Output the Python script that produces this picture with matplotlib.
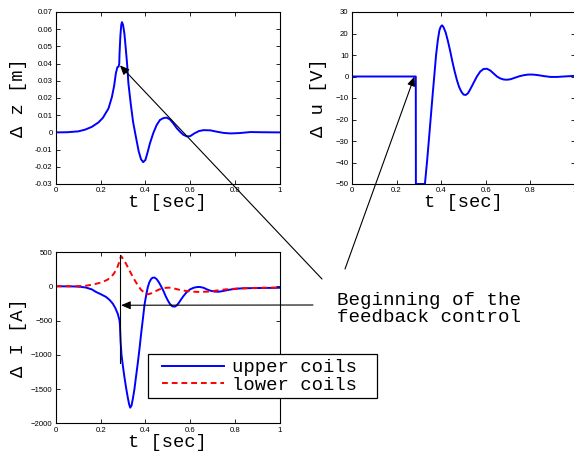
import matplotlib.pyplot as plt
from matplotlib.patches import Rectangle
import numpy as np

# ---------------------------------------------------------
# Data
# ---------------------------------------------------------

# vertical displacement of the plasma, delta z [m]
t_z = [0, 0.05, 0.10, 0.13, 0.16, 0.19, 0.21, 0.225, 0.23, 0.235, 0.25, 0.26,
       0.268, 0.275, 0.280, 0.283, 0.284, 0.288, 0.292, 0.295, 0.30, 0.306,
       0.312, 0.318, 0.324, 0.335, 0.345, 0.358, 0.37, 0.38, 0.39, 0.40, 0.41,
       0.42, 0.435, 0.45, 0.465, 0.48, 0.495, 0.51, 0.525, 0.54, 0.555, 0.57,
       0.585, 0.60, 0.62, 0.64, 0.66, 0.69, 0.72, 0.75, 0.78, 0.82, 0.87,
       0.92, 1.0]
dz = [0, 0.0001, 0.0006, 0.0016, 0.0032, 0.0058, 0.0085, 0.0118, 0.0128,
      0.0140, 0.0205, 0.0270, 0.0345, 0.0380, 0.0382, 0.0400, 0.0450, 0.0560,
      0.0625, 0.0641, 0.0625, 0.0575, 0.0490, 0.0400, 0.0285, 0.0160, 0.0060,
      -0.0030, -0.0110, -0.0155, -0.0173, -0.0160, -0.0115, -0.0065, -0.0005,
      0.0042, 0.0072, 0.0083, 0.0086, 0.0075, 0.0052, 0.0025, 0.0004, -0.0014,
      -0.0023, -0.0022, -0.0005, 0.0008, 0.0013, 0.0012, 0.0004, -0.0003,
      -0.0006, -0.0004, 0.0002, 0.0001, 0.0]

# control voltage, delta u [V]
t_u = [0, 0.286, 0.2865, 0.327, 0.337, 0.346, 0.354, 0.362, 0.370, 0.377,
       0.385, 0.392, 0.398, 0.404, 0.41, 0.42, 0.43, 0.44, 0.45, 0.46, 0.47,
       0.48, 0.49, 0.50, 0.51, 0.52, 0.53, 0.545, 0.56, 0.575, 0.59, 0.605,
       0.62, 0.635, 0.65, 0.665, 0.68, 0.695, 0.71, 0.73, 0.75, 0.77, 0.79,
       0.81, 0.83, 0.86, 0.89, 0.92, 0.95, 1.0]
du = [0, 0, -50, -50, -39, -28, -18, -8, 1.5, 10, 17, 21.5, 23.2, 23.8, 23,
      20.5, 16.5, 12, 7, 2.5, -1.5, -4.8, -7, -8.4, -8.6, -7.8, -6, -3, 0,
      2.3, 3.5, 3.6, 2.8, 1.4, 0, -0.9, -1.4, -1.5, -1.3, -0.6, 0.1, 0.6, 0.9,
      0.9, 0.7, 0.2, -0.2, -0.2, 0.0, 0.3]

# coil currents, delta I [A]
t_up = [0, 0.08, 0.11, 0.134, 0.16, 0.179, 0.20, 0.224, 0.24, 0.254, 0.265,
        0.276, 0.284, 0.286, 0.289, 0.293, 0.298, 0.306, 0.314, 0.321, 0.327,
        0.332, 0.338, 0.344, 0.351, 0.358, 0.366, 0.374, 0.381, 0.389, 0.396,
        0.404, 0.411, 0.418, 0.426, 0.433, 0.441, 0.45, 0.46, 0.47, 0.481,
        0.49, 0.50, 0.51, 0.52, 0.531, 0.54, 0.55, 0.56, 0.571, 0.585, 0.60,
        0.616, 0.63, 0.643, 0.66, 0.675, 0.691, 0.71, 0.728, 0.75, 0.78, 0.81,
        0.84, 0.88, 0.92, 0.96, 1.0]
i_upper = [0, -3, -8, -19, -45, -83, -115, -156, -200, -253, -315, -399, -496,
           -560, -800, -1000, -1130, -1322, -1490, -1620, -1720, -1772, -1740,
           -1640, -1500, -1320, -1120, -900, -690, -470, -270, -120, -10, 60,
           108, 125, 127, 105, 60, 0, -70, -140, -205, -260, -292, -298, -280,
           -240, -190, -140, -85, -45, -22, -12, -10, -22, -45, -65, -78, -80,
           -68, -48, -35, -29, -27, -25, -24, -22]

t_low = [0, 0.10, 0.134, 0.164, 0.19, 0.209, 0.23, 0.246, 0.258, 0.268, 0.276,
         0.283, 0.288, 0.291, 0.296, 0.303, 0.313, 0.324, 0.336, 0.35, 0.366,
         0.38, 0.396, 0.411, 0.425, 0.44, 0.463, 0.485, 0.505, 0.526, 0.55,
         0.584, 0.614, 0.644, 0.68, 0.72, 0.76, 0.81, 0.86, 0.92, 1.0]
i_lower = [0, 2, 8, 24, 45, 63, 95, 136, 180, 233, 290, 354, 410, 440, 420,
           380, 331, 260, 185, 100, 15, -50, -97, -117, -105, -80, -45, -25,
           -20, -30, -50, -70, -80, -83, -78, -62, -45, -34, -28, -22, -19]

# start of the feedback control, as marked on each trace
fb_z = (0.286, 0.039)
fb_u = (0.280, 0.0)
fb_i = (0.291, -277)
fb_line_t = 0.287
fb_line_span = [450, -1120]

x_ticks = [0, 0.2, 0.4, 0.6, 0.8, 1]
x_ticklabels = ['0', '0.2', '0.4', '0.6', '0.8', '1']
z_ticks = [-0.03, -0.02, -0.01, 0, 0.01, 0.02, 0.03, 0.04, 0.05, 0.06, 0.07]
z_ticklabels = ['-0.03', '-0.02', '-0.01', '0', '0.01', '0.02', '0.03',
                '0.04', '0.05', '0.06', '0.07']
u_ticks = [-50, -40, -30, -20, -10, 0, 10, 20, 30]
i_ticks = [-2000, -1500, -1000, -500, 0, 500]

# ---------------------------------------------------------
# Figure
# ---------------------------------------------------------

W, H = 574, 454
mono = 'Liberation Mono'
sans = 'Liberation Sans'

fig = plt.figure(figsize=(W / 100, H / 100), dpi=100)


def px_axes(left, top, right, bottom):
    return fig.add_axes([left / W, 1 - bottom / H, (right - left) / W, (bottom - top) / H])


def style(ax, ylabel, ylabel_x):
    ax.set_xlim(0, 1)
    ax.set_xticks(x_ticks)
    ax.set_xticklabels(x_ticklabels)
    ax.tick_params(direction='in', length=3, width=0.6, top=True, right=True,
                   labelsize=5.6, pad=2.5, colors='black')
    for lab in ax.get_xticklabels() + ax.get_yticklabels():
        lab.set_family(sans)
    for sp in ax.spines.values():
        sp.set_linewidth(0.8)
    ax.set_xlabel('t [sec]', family=mono, fontsize=13.5, labelpad=0)
    ax.set_ylabel(ylabel, family=mono, fontsize=13.5)
    ax.yaxis.set_label_coords(ylabel_x, 0.5)


arrow = dict(arrowstyle='-|>,head_length=0.7,head_width=0.3', color='black',
             lw=0.8, mutation_scale=8, shrinkA=0, shrinkB=0)

# delta z
ax1 = px_axes(56, 12, 279.5, 184)
ax1.plot(t_z, dz, color='#0000ff', lw=1.4)
ax1.set_ylim(-0.03, 0.07)
ax1.set_yticks(z_ticks)
ax1.set_yticklabels(z_ticklabels)
style(ax1, 'Δ z [m]', -0.13)
ax1.annotate('', xy=fb_z, xycoords='data',
             xytext=(322 / W, 1 - 279 / H), textcoords='figure fraction',
             arrowprops=arrow, annotation_clip=False)

# delta u
ax2 = px_axes(352, 12, 575, 184)
ax2.plot(t_u, du, color='#0000ff', lw=1.4)
ax2.set_ylim(-50, 30)
ax2.set_yticks(u_ticks)
style(ax2, 'Δ u [V]', -0.11)
ax2.annotate('', xy=fb_u, xycoords='data',
             xytext=(345 / W, 1 - 269 / H), textcoords='figure fraction',
             arrowprops=arrow, annotation_clip=False)

# delta I
ax3 = px_axes(56, 252, 279.5, 423.3)
ax3.plot(t_up, i_upper, color='#0000ff', lw=1.4, label='upper coils')
ax3.plot(t_low, i_lower, color='#ff0000', lw=1.4, ls=(0, (3, 2)),
         label='lower coils')
ax3.plot([fb_line_t, fb_line_t], fb_line_span, color='black', lw=0.8)
ax3.set_ylim(-2000, 500)
ax3.set_yticks(i_ticks)
style(ax3, 'Δ I [A]', -0.13)
ax3.annotate('', xy=fb_i, xycoords='data',
             xytext=(313 / W, 1 - 305 / H), textcoords='figure fraction',
             arrowprops=arrow, annotation_clip=False)

# legend box sticks out past the right spine, so the frame is drawn by hand
box = Rectangle((148 / W, 1 - 398 / H), (377 - 148) / W, (398 - 354) / H,
                transform=fig.transFigure, facecolor='white', edgecolor='black',
                lw=0.9, clip_on=False, zorder=4.9)
ax3.add_patch(box)
leg = ax3.legend(loc='center left', bbox_to_anchor=(162 / W, 1 - 376.5 / H),
                 bbox_transform=fig.transFigure, frameon=False,
                 borderaxespad=0, borderpad=0,
                 prop={'family': mono, 'size': 13.6}, handlelength=3.3,
                 handletextpad=0.4, labelspacing=0.0)

fig.text(337 / W, 1 - 305 / H, 'Beginning of the', family=mono, fontsize=13.8,
         va='baseline', ha='left')
fig.text(337 / W, 1 - 322 / H, 'feedback control', family=mono, fontsize=13.8,
         va='baseline', ha='left')

fig.savefig('out.png', dpi=100)
